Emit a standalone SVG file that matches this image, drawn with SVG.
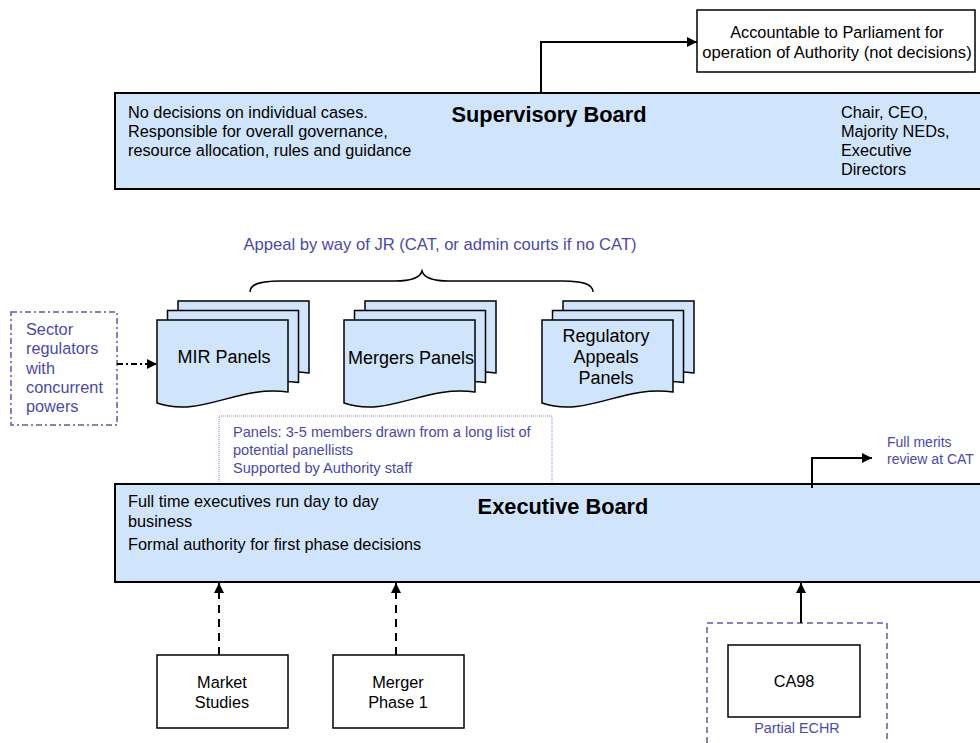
<svg xmlns="http://www.w3.org/2000/svg" xmlns:xlink="http://www.w3.org/1999/xlink" width="980" height="743" viewBox="0 0 980 743">
<style>
text{font-family:"Liberation Sans",Arial,sans-serif;font-size:16.3px;fill:#000}
.blue{fill:#4A4AA6}
.c{text-anchor:middle}
.title{font-weight:bold;font-size:21.8px}
.panel{font-size:18px}
.note{font-size:14.6px}
.small{font-size:14px}
.board{fill:#D0E5FB;stroke:#000;stroke-width:2}
.box{fill:#fff;stroke:#000;stroke-width:1.5}
.doc{fill:#D0E5FB;stroke:#000;stroke-width:1.5}
.conn{fill:none;stroke:#000;stroke-width:2}
</style>
<defs>
<marker id="arr" viewBox="0 0 10 10" refX="10" refY="5" markerWidth="10" markerHeight="10" markerUnits="userSpaceOnUse" orient="auto">
<path d="M0,0 L10,5 L0,10 Z" fill="#000"/>
</marker>
<path id="docshape" d="M0,0 H131 V72 C80,65 45,98 0,83 Z"/>
</defs>

<g id="accountable">
<rect class="box" x="697" y="10" width="278" height="62"/>
<text class="c" x="837" y="38">Accountable to Parliament for</text>
<text class="c" x="837" y="58" style="font-size:16.6px">operation of Authority (not decisions)</text>
</g>

<g id="supervisory-board">
<rect class="board" x="115" y="93" width="880" height="96"/>
<text x="128" y="118">No decisions on individual cases.</text>
<text x="128" y="137">Responsible for overall governance,</text>
<text x="128" y="156">resource allocation, rules and guidance</text>
<text class="title c" x="549" y="122">Supervisory Board</text>
<text x="841" y="118">Chair, CEO,</text>
<text x="841" y="137">Majority NEDs,</text>
<text x="841" y="156">Executive</text>
<text x="841" y="175">Directors</text>
</g>

<g id="appeal-label">
<text class="blue c" x="440" y="250" style="font-size:16.6px">Appeal by way of JR (CAT, or admin courts if no CAT)</text>
<path d="M250,292 C250,284 260,281 280,281 L395,281 C412,281 420,278 422,271 C424,278 432,281 449,281 L563,281 C583,281 593,284 593,292" fill="none" stroke="#000" stroke-width="1.5"/>
</g>

<g id="sector-regulators">
<rect x="11" y="312" width="106" height="113" fill="none" stroke="#5A5AAA" stroke-width="1.5" stroke-dasharray="6,3,2,3"/>
<text class="blue" x="26" y="335">Sector</text>
<text class="blue" x="26" y="354">regulators</text>
<text class="blue" x="26" y="374">with</text>
<text class="blue" x="26" y="393">concurrent</text>
<text class="blue" x="26" y="412">powers</text>
</g>

<g id="mir-panels">
<use xlink:href="#docshape" class="doc" x="178" y="301"/>
<use xlink:href="#docshape" class="doc" x="167.5" y="310.5"/>
<use xlink:href="#docshape" class="doc" x="157" y="320"/>
<text class="c panel" x="224" y="363">MIR Panels</text>
</g>

<g id="mergers-panels">
<use xlink:href="#docshape" class="doc" x="365" y="301"/>
<use xlink:href="#docshape" class="doc" x="354.5" y="310.5"/>
<use xlink:href="#docshape" class="doc" x="344" y="320"/>
<text class="c panel" x="411" y="364">Mergers Panels</text>
</g>

<g id="regulatory-panels">
<use xlink:href="#docshape" class="doc" x="563" y="301"/>
<use xlink:href="#docshape" class="doc" x="552.5" y="310.5"/>
<use xlink:href="#docshape" class="doc" x="542" y="320"/>
<text class="c panel" x="606" y="342">Regulatory</text>
<text class="c panel" x="606" y="363">Appeals</text>
<text class="c panel" x="606" y="384">Panels</text>
</g>

<g id="panels-note">
<rect x="219" y="416" width="333" height="68" fill="#fff" stroke="#8888C4" stroke-width="1" stroke-dasharray="1,1"/>
<text class="blue note" x="233" y="437">Panels: 3-5 members drawn from a long list of</text>
<text class="blue note" x="233" y="455">potential panellists</text>
<text class="blue note" x="233" y="473">Supported by Authority staff</text>
</g>

<g id="full-merits-label">
<text class="blue small" x="887" y="447">Full merits</text>
<text class="blue small" x="887" y="464">review at CAT</text>
</g>

<g id="executive-board">
<rect class="board" x="115" y="484" width="880" height="98"/>
<text x="128" y="507">Full time executives run day to day</text>
<text x="128" y="527">business</text>
<text x="128" y="550">Formal authority for first phase decisions</text>
<text class="title c" x="563" y="514">Executive Board</text>
</g>

<g id="market-studies">
<rect class="box" x="157" y="655" width="131" height="73"/>
<text class="c" x="222" y="688">Market</text>
<text class="c" x="222" y="708">Studies</text>
</g>

<g id="merger-phase1">
<rect class="box" x="333" y="655" width="131" height="73"/>
<text class="c" x="398" y="688">Merger</text>
<text class="c" x="398" y="708">Phase 1</text>
</g>

<g id="ca98-group">
<rect x="707" y="623" width="180" height="130" fill="none" stroke="#5A5AAA" stroke-width="1.5" stroke-dasharray="6,4"/>
<rect class="box" x="728" y="645" width="132" height="72"/>
<text class="c" x="794" y="687">CA98</text>
<text class="blue c" x="797" y="733" style="font-size:14.4px">Partial ECHR</text>
</g>

<g id="connectors">
<path class="conn" d="M541,93 V42 H697" marker-end="url(#arr)"/>
<path class="conn" d="M812,488 V458 H872" marker-end="url(#arr)"/>
<path class="conn" d="M117,364 H157" stroke-dasharray="6,3,2,3" marker-end="url(#arr)"/>
<path class="conn" d="M219,655 V583" stroke-dasharray="8,6" marker-end="url(#arr)"/>
<path class="conn" d="M396,655 V583" stroke-dasharray="8,6" marker-end="url(#arr)"/>
<path class="conn" d="M801,623 V583" marker-end="url(#arr)"/>
</g>
</svg>
